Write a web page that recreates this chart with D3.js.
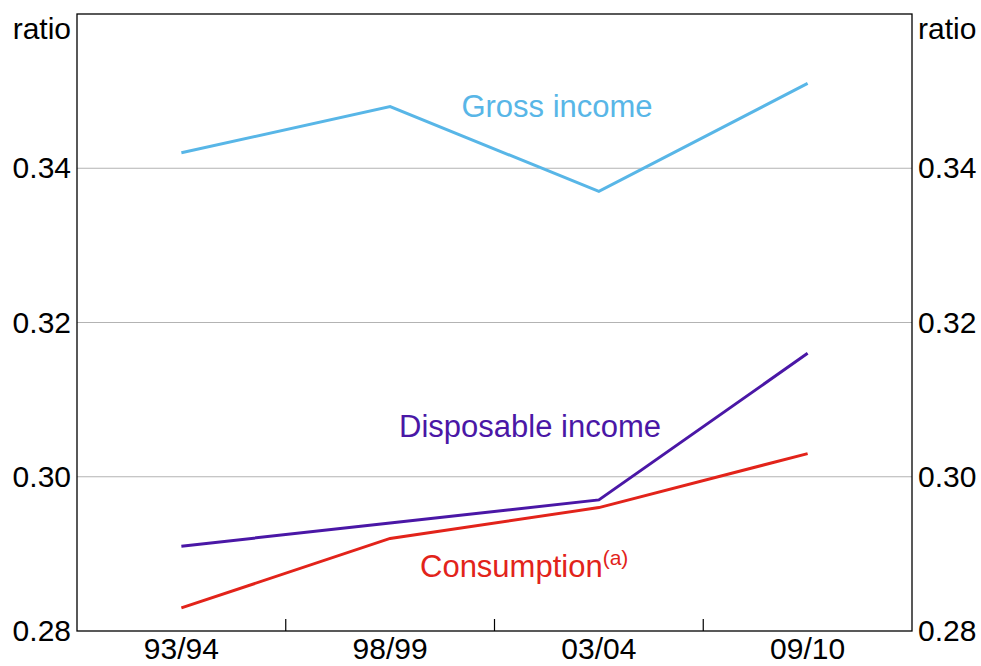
<!DOCTYPE html>
<html>
<head>
<meta charset="utf-8">
<script src="https://cdn.jsdelivr.net/npm/d3@7"></script>
<style>
  body { margin: 0; background: #fff; }
  text { font-family: "Liberation Sans", Arial, sans-serif; }
</style>
</head>
<body>
<div id="grafico"></div>
<script>
// Categorias e séries
const anos = ["93/94", "98/99", "03/04", "09/10"];
const rendaBruta = [0.342, 0.348, 0.337, 0.351];
const rendaDisponivel = [0.291, 0.294, 0.297, 0.316];
const consumo = [0.283, 0.292, 0.296, 0.303];
const ticksY = [0.28, 0.30, 0.32, 0.34];

const largura = 981, altura = 666;
const margem = {top: 14, right: 69, bottom: 35, left: 77};
const fonteEixo = 30, fonteRotulo = 31;

const svg = d3.select("#grafico").append("svg")
    .attr("width", largura)
    .attr("height", altura);

// Escalas
const eixoX = d3.scaleBand().domain(anos).range([margem.left, largura - margem.right]);
const eixoY = d3.scaleLinear().domain([0.28, 0.36]).range([altura - margem.bottom, margem.top]);

// Linhas de grade
svg.append("g").selectAll("line")
    .data(ticksY.slice(1))
    .join("line")
    .attr("x1", margem.left).attr("x2", largura - margem.right)
    .attr("y1", d => eixoY(d)).attr("y2", d => eixoY(d))
    .attr("stroke", "#b3b3b3").attr("stroke-width", 1.2);

// Rótulos do eixo Y (esquerda e direita)
const fmt = d3.format(".2f");
svg.append("g")
    .attr("transform", `translate(${margem.left},0)`)
    .call(d3.axisLeft(eixoY).tickValues(ticksY).tickFormat(fmt).tickSize(0).tickPadding(6))
    .call(g => g.select(".domain").remove())
    .call(g => g.selectAll("text").attr("font-size", fonteEixo).attr("fill", "#000"));
svg.append("g")
    .attr("transform", `translate(${largura - margem.right},0)`)
    .call(d3.axisRight(eixoY).tickValues(ticksY).tickFormat(fmt).tickSize(0).tickPadding(6))
    .call(g => g.select(".domain").remove())
    .call(g => g.selectAll("text").attr("font-size", fonteEixo).attr("fill", "#000"));

svg.append("text").attr("x", margem.left - 6).attr("y", 39)
    .attr("text-anchor", "end").attr("font-size", fonteEixo).text("ratio");
svg.append("text").attr("x", largura - margem.right + 6).attr("y", 39)
    .attr("text-anchor", "start").attr("font-size", fonteEixo).text("ratio");

// Eixo X com marcas entre categorias
const eixoBase = altura - margem.bottom;
svg.append("g")
    .attr("transform", `translate(0,${eixoBase})`)
    .call(d3.axisBottom(eixoX).tickSize(0).tickPadding(7))
    .call(g => g.select(".domain").remove())
    .call(g => g.selectAll("text").attr("font-size", fonteEixo).attr("fill", "#000"));
svg.append("g").selectAll("line")
    .data(anos.slice(1))
    .join("line")
    .attr("x1", d => eixoX(d)).attr("x2", d => eixoX(d))
    .attr("y1", eixoBase).attr("y2", eixoBase - 12)
    .attr("stroke", "#000").attr("stroke-width", 1.2);

// Moldura
svg.append("rect")
    .attr("x", margem.left).attr("y", margem.top)
    .attr("width", largura - margem.left - margem.right)
    .attr("height", altura - margem.top - margem.bottom)
    .attr("fill", "none").attr("stroke", "#000").attr("stroke-width", 1.3);

// Séries
const linha = d3.line()
    .x((d, i) => eixoX(anos[i]) + eixoX.bandwidth() / 2)
    .y(d => eixoY(d));

const series = [
    {valores: rendaBruta, cor: "#58b6e7"},
    {valores: rendaDisponivel, cor: "#4a17a6"},
    {valores: consumo, cor: "#e2231a"}
];
svg.append("g").selectAll("path")
    .data(series)
    .join("path")
    .attr("d", d => linha(d.valores))
    .attr("fill", "none")
    .attr("stroke", d => d.cor)
    .attr("stroke-width", 3);

// Rótulos das séries
svg.append("text").attr("x", 557).attr("y", 117).attr("text-anchor", "middle")
    .attr("font-size", fonteRotulo).attr("fill", "#58b6e7").text("Gross income");
svg.append("text").attr("x", 530).attr("y", 437).attr("text-anchor", "middle")
    .attr("font-size", fonteRotulo).attr("fill", "#4a17a6").text("Disposable income");
const rotuloConsumo = svg.append("text").attr("x", 420).attr("y", 577)
    .attr("font-size", fonteRotulo).attr("fill", "#e2231a");
rotuloConsumo.append("tspan").text("Consumption");
rotuloConsumo.append("tspan").attr("font-size", 21).attr("dy", -12).text("(a)");
</script>
</body>
</html>
